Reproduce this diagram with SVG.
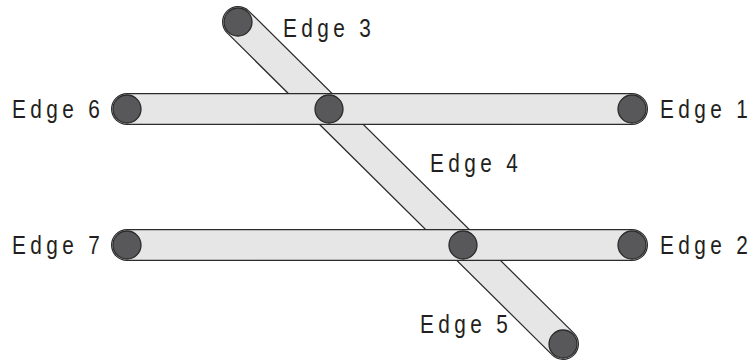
<svg xmlns="http://www.w3.org/2000/svg" width="751" height="360" viewBox="0 0 751 360">
  <style>
    .bar-edge { stroke: #2b2b2b; stroke-width: 32; stroke-linecap: round; fill: none; }
    .bar-fill { stroke: #e6e6e7; stroke-width: 29.5; stroke-linecap: round; fill: none; }
    .node { fill: #58585a; stroke: #2b2b2b; stroke-width: 1.3; }
    .label { font-family: "Liberation Sans", Arial, sans-serif; font-size: 26px; letter-spacing: 5.5px; fill: #231f20; }
  </style>
  <rect width="751" height="360" fill="#ffffff"/>
  <g id="connectors">
    <!-- diagonal edge (Edge 3 / 4 / 5), drawn underneath the horizontal bars -->
    <g id="edge-diagonal">
      <line class="bar-edge" x1="238" y1="22" x2="563" y2="344"/>
      <line class="bar-fill" x1="238" y1="22" x2="563" y2="344"/>
    </g>
    <!-- upper horizontal edge (Edge 6 / Edge 1) -->
    <g id="edge-upper">
      <line class="bar-edge" x1="127" y1="109" x2="632" y2="109"/>
      <line class="bar-fill" x1="127" y1="109" x2="632" y2="109"/>
    </g>
    <!-- lower horizontal edge (Edge 7 / Edge 2) -->
    <g id="edge-lower">
      <line class="bar-edge" x1="127" y1="245" x2="632" y2="245"/>
      <line class="bar-fill" x1="127" y1="245" x2="632" y2="245"/>
    </g>
  </g>
  <g id="node-top"><circle class="node" cx="238" cy="22" r="14"/></g>
  <g id="node-upper-left"><circle class="node" cx="127" cy="109" r="14"/></g>
  <g id="node-upper-mid"><circle class="node" cx="329" cy="109" r="14"/></g>
  <g id="node-upper-right"><circle class="node" cx="632" cy="109" r="14"/></g>
  <g id="node-lower-left"><circle class="node" cx="127" cy="245" r="14"/></g>
  <g id="node-lower-mid"><circle class="node" cx="463" cy="245" r="14"/></g>
  <g id="node-lower-right"><circle class="node" cx="632" cy="245" r="14"/></g>
  <g id="node-bottom"><circle class="node" cx="563" cy="344" r="14"/></g>
  <!-- labels use a horizontally condensed sans -->
  <g id="labels">
    <text class="label" transform="translate(283,37) scale(0.8,1)">Edge 3</text>
    <text class="label" transform="translate(12,118) scale(0.8,1)">Edge 6</text>
    <text class="label" transform="translate(660,118) scale(0.8,1)">Edge 1</text>
    <text class="label" transform="translate(430,172) scale(0.8,1)">Edge 4</text>
    <text class="label" transform="translate(12,254) scale(0.8,1)">Edge 7</text>
    <text class="label" transform="translate(660,254) scale(0.8,1)">Edge 2</text>
    <text class="label" transform="translate(420,333) scale(0.8,1)">Edge 5</text>
  </g>
</svg>
